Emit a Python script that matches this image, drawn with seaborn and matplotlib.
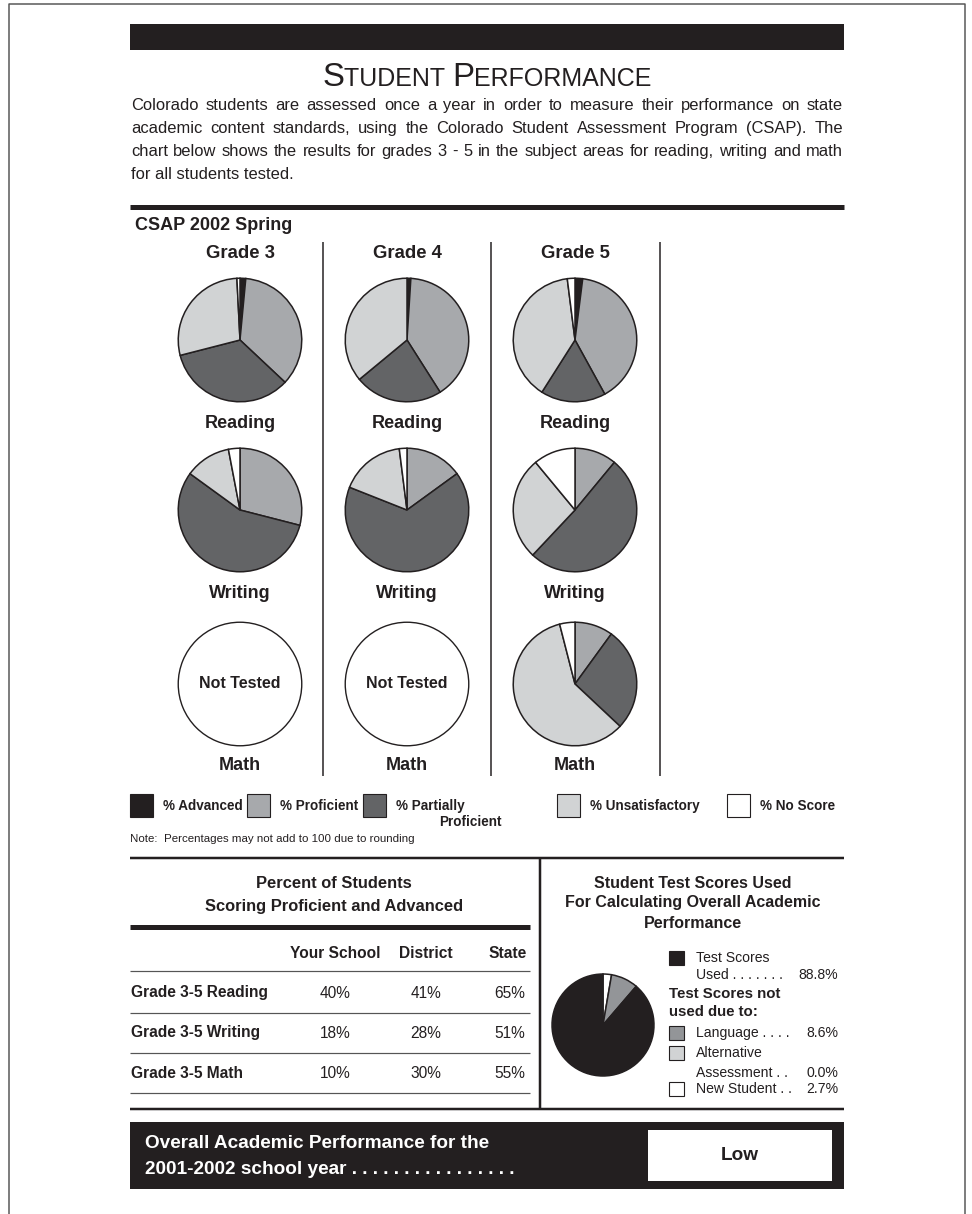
import matplotlib
matplotlib.use('Agg')
import matplotlib.pyplot as plt
import seaborn as sns
from matplotlib import font_manager
from matplotlib.patches import Rectangle

# ---- data ----
levels = ['% Advanced', '% Proficient', '% Partially\nProficient', '% Unsatisfactory', '% No Score']
grades = ['Grade 3', 'Grade 4', 'Grade 5']
subjects = ['Reading', 'Writing', 'Math']

reading = [[1.5, 35.5, 34, 28.2, 0.8],
           [1, 40, 23, 36, 0],
           [2, 40, 17, 39, 2]]
writing = [[0, 29, 56, 12, 3],
           [0, 15, 66, 17, 2],
           [0, 11, 51, 27, 11]]
math = [None, None, [0, 10, 27, 59, 4]]

table_rows = ['Grade 3-5 Reading', 'Grade 3-5 Writing', 'Grade 3-5 Math']
table_cols = ['Your School', 'District', 'State']
your_school = ['40%', '18%', '10%']
district = ['41%', '28%', '30%']
state = ['65%', '51%', '55%']

used_labels = ['New Student', 'Language', 'Alternative\nAssessment', 'Test Scores\nUsed']
used_values = [2.7, 8.6, 0.0, 88.8]

overall_rating = 'Low'

# ---- style ----
sns.set_theme(style='white')
avail = {f.name for f in font_manager.fontManager.ttflist}
narrow = 'Liberation Sans Narrow' if 'Liberation Sans Narrow' in avail else 'Liberation Sans'
plt.rcParams['font.family'] = [narrow, 'Liberation Sans', 'DejaVu Sans']
wide = ['Liberation Sans', 'DejaVu Sans']

ink = '#231f20'
level_colors = sns.color_palette([ink, '#a7a9ac', '#636466', '#d1d3d4', '#ffffff'])
used_colors = sns.color_palette(['#ffffff', '#939598', '#d1d3d4', ink])

W, H = 972, 1214
fig = plt.figure(figsize=(W / 100, H / 100), dpi=100)
bg = fig.add_axes([0, 0, 1, 1])
bg.set_xlim(0, W)
bg.set_ylim(H, 0)
bg.axis('off')


def pt(px):
    return px * 0.72


def hline(y, x0, x1, lw_px, color=ink):
    bg.plot([x0, x1], [y, y], color=color, lw=pt(lw_px), solid_capstyle='butt')


def vline(x, y0, y1, lw_px, color=ink):
    bg.plot([x, x], [y0, y1], color=color, lw=pt(lw_px), solid_capstyle='butt')


def pie_at(cx, cy, r, vals, colors, text=None):
    ax = fig.add_axes([(cx - r) / W, 1 - (cy + r) / H, 2 * r / W, 2 * r / H])
    if vals is None:
        ax.pie([1], colors=['white'], startangle=90,
               wedgeprops=dict(edgecolor=ink, linewidth=1.0))
        ax.text(0, 0, text, ha='center', va='center', fontsize=pt(16), weight='bold', color=ink)
    else:
        keep = [(v, c) for v, c in zip(vals, colors) if v > 0]
        ax.pie([k[0] for k in keep], colors=[k[1] for k in keep], startangle=90,
               counterclock=False, wedgeprops=dict(edgecolor=ink, linewidth=1.1))
    ax.set_xlim(-1.02, 1.02)
    ax.set_ylim(-1.02, 1.02)
    ax.set_aspect('equal')
    ax.axis('off')


renderer = fig.canvas.get_renderer()


def width(t):
    return t.get_window_extent(renderer).width


def leader(x0, x1, y, left, right, size, **kw):
    # left label, dotted leader, right-aligned value
    t = bg.text(x0, y, left, fontsize=pt(size), va='center', color=kw.get('color', ink),
                weight=kw.get('weight', 'normal'))
    wr = 0
    if right:
        r = bg.text(x1, y, right, fontsize=pt(size), va='center', ha='right',
                    color=kw.get('color', ink), weight=kw.get('weight', 'normal'))
        wr = width(r) + 8
    probe = bg.text(0, 0, '. ' * 10, fontsize=pt(size), weight=kw.get('weight', 'normal'))
    dw = width(probe) / 10
    probe.remove()
    n = max(1, int((x1 - wr - x0 - width(t) - 4) / dw))
    t.set_text(left + ' ' + '. ' * n)
    return t


# ---- page frame ----
bg.plot([9, 9, 965, 965], [H, 4, 4, H], color='#555555', lw=pt(1.5))

# top black bar
bg.add_patch(Rectangle((130, 24), 714, 26, color=ink, lw=0))

# small-caps title
pieces = [('S', 33), ('TUDENT ', 25), ('P', 33), ('ERFORMANCE', 25)]
objs = [bg.text(0, 86, s, fontsize=pt(sz), color=ink, va='baseline', ha='left') for s, sz in pieces]
widths = [width(o) for o in objs]
x = 487 - sum(widths) / 2
for o, w in zip(objs, widths):
    o.set_x(x)
    x += w

# justified intro paragraph
para = ["Colorado students are assessed once a year in order to measure their performance on state",
        "academic content standards, using the Colorado Student Assessment Program (CSAP).  The",
        "chart below shows the results for grades 3 - 5 in the subject areas for reading, writing and math",
        "for all students tested."]
for i, line in enumerate(para):
    y = 110 + i * 23
    if i == len(para) - 1:
        bg.text(131, y, line, fontsize=pt(16.5), color=ink, va='baseline')
        continue
    words = line.split()
    ts = [bg.text(0, y, w_, fontsize=pt(16.5), color=ink, va='baseline') for w_ in words]
    ws = [width(t) for t in ts]
    gap = (843 - 131 - sum(ws)) / (len(words) - 1)
    x = 131
    for t, w_ in zip(ts, ws):
        t.set_x(x)
        x += w_ + gap

hline(207, 130, 844, 5)
bg.text(135, 225, 'CSAP 2002 Spring', fontsize=pt(18), weight='bold', family=wide, color=ink, va='center')

# ---- grade columns of pies ----
col_x = [240, 407, 575]
row_y = [340, 510, 684]
label_y = [423, 594, 765]
for gx in [323, 491, 660]:
    vline(gx, 242, 776, 1.5)
for g, cx in enumerate(col_x):
    bg.text(cx, 253, grades[g], fontsize=pt(18.5), weight='bold', family=wide,
            ha='center', va='center', color=ink)
    for s, data in enumerate([reading, writing, math]):
        pie_at(cx, row_y[s], 63, data[g], level_colors, text='Not Tested')
        bg.text(cx, label_y[s], subjects[s], fontsize=pt(18), weight='bold',
                ha='center', va='center', color=ink)

# legend
leg_x = [130, 247, 363, 557, 727]
for lx, lab, c in zip(leg_x, levels, level_colors):
    bg.add_patch(Rectangle((lx, 794), 23, 23, facecolor=c, edgecolor=ink, lw=0.8))
    first, *rest = lab.split('\n')
    bg.text(lx + 33, 806, first, fontsize=pt(13.5), weight='bold', va='center', color=ink)
    if rest:
        bg.text(lx + 139, 822, rest[0], fontsize=pt(13.5), weight='bold', va='center', ha='right', color=ink)
bg.text(130, 839, 'Note:  Percentages may not add to 100 due to rounding', fontsize=pt(11.5),
        va='center', color=ink)

hline(858, 130, 844, 2.5)
vline(540, 858, 1109, 2.5)

# ---- table ----
bg.text(334, 884, 'Percent of Students', fontsize=pt(16.5), weight='bold', ha='center', va='center', color=ink)
bg.text(334, 907, 'Scoring Proficient and Advanced', fontsize=pt(16.5), weight='bold', ha='center', va='center', color=ink)
hline(927, 130, 530, 5)
col_pos = [(335, 'center'), (426, 'center'), (527, 'right')]
for (cx, ha), name in zip(col_pos, table_cols):
    bg.text(cx, 953, name, fontsize=pt(15.5), weight='bold', ha=ha, va='center', color=ink)
hline(971, 130, 530, 1.2, '#555555')
for i, lab in enumerate(table_rows):
    y = 993 + i * 40
    bg.text(131, y, lab, fontsize=pt(15.5), weight='bold', va='center', color=ink)
    for (cx, ha), v in zip(col_pos, [your_school[i], district[i], state[i]]):
        bg.text(cx - (2 if ha == 'right' else 0), y, v, fontsize=pt(15.5), ha=ha, va='center', color=ink)
    hline(y + 19.5, 130, 530, 1.2, '#555555')
hline(1109, 130, 844, 2.5)

# ---- test scores used panel ----
for k, line in enumerate(['Student Test Scores Used', 'For Calculating Overall Academic', 'Performance']):
    bg.text(693, 883 + k * 20, line, fontsize=pt(16), weight='bold', ha='center', va='center', color=ink)
pie_at(603, 1025, 52, used_values, used_colors)

fs = 14
entries = [(958, 3), (1033, 1), (1053, 2), (1089, 0)]
for y, k in entries:
    bg.add_patch(Rectangle((669, y - 7), 15, 14, facecolor=used_colors[k], edgecolor=ink, lw=0.8))
    lines = used_labels[k].split('\n')
    if len(lines) == 2:
        bg.text(696, y, lines[0], fontsize=pt(fs), va='center', color=ink)
        leader(696, 838, y + 17 if k == 3 else y + 20, lines[1], f'{used_values[k]:.1f}%', fs)
    else:
        leader(696, 838, y, lines[0], f'{used_values[k]:.1f}%', fs)
bg.text(669, 994, 'Test Scores not', fontsize=pt(15), weight='bold', va='center', color=ink)
bg.text(669, 1012, 'used due to:', fontsize=pt(15), weight='bold', va='center', color=ink)

# ---- overall rating box ----
bg.add_patch(Rectangle((130, 1122), 714, 67, color=ink, lw=0))
bg.add_patch(Rectangle((648, 1130), 184, 51, facecolor='white', lw=0))
bg.text(145, 1143, 'Overall Academic Performance for the', fontsize=pt(19), weight='bold',
        va='center', color='white')
leader(145, 526, 1170, '2001-2002 school year', '', 19, weight='bold', color='white')
bg.text(740, 1156, overall_rating, fontsize=pt(19), weight='bold', ha='center', va='center', color=ink)

fig.savefig('out.png', dpi=100, facecolor='white')
